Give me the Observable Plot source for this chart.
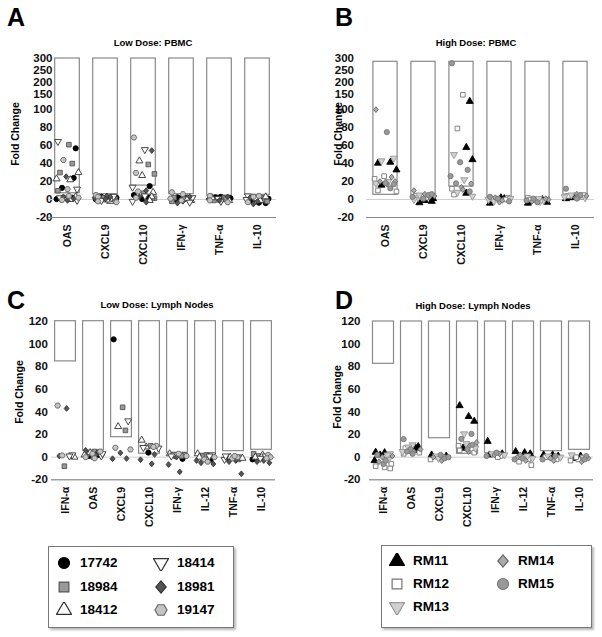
<!DOCTYPE html>
<html><head><meta charset="utf-8">
<script src="https://cdn.jsdelivr.net/npm/d3@7"></script>
<script src="https://cdn.jsdelivr.net/npm/@observablehq/plot@0.6"></script>
<style>
body{margin:0;background:#fff;font-family:"Liberation Sans",Arial,sans-serif;}
#wrap{position:relative;width:602px;height:637px;overflow:hidden;background:#fff;}
.abs{position:absolute;}
.letter{font-weight:bold;font-size:25px;line-height:1;}
.title{font-weight:bold;font-size:9.5px;white-space:nowrap;transform:translate(-50%,-50%);line-height:1;}
.ylab{font-weight:bold;font-size:10.5px;white-space:nowrap;transform:translate(-50%,-50%) rotate(-90deg);line-height:1;}
.legend{border:1px solid #777;box-shadow:2px 2px 2px #bbb;background:#fff;box-sizing:border-box;}
.lt{font-weight:bold;font-size:13.5px;line-height:1;transform:translateY(-50%);white-space:nowrap;}
g[aria-label="fx-axis tick label"]{font-size:10.5px;}
</style>
</head><body><div id="wrap"></div>
<script>
// ---------- categories, subjects, ticks ----------
const pbmcCats = ["OAS", "CXCL9", "CXCL10", "IFN-γ", "TNF-α", "IL-10"];
const lnCats = ["IFN-α", "OAS", "CXCL9", "CXCL10", "IFN-γ", "IL-12", "TNF-α", "IL-10"];
const lowSubjects = ["17742", "18984", "18412", "18414", "18981", "19147"];
const highSubjects = ["RM11", "RM12", "RM13", "RM14", "RM15"];
const pbmcTicks = [-20, 0, 20, 40, 60, 80, 100, 150, 200, 250, 300];
const lnTicks = [-20, 0, 20, 40, 60, 80, 100, 120];

// ---------- threshold boxes (bottom / top value per category) ----------
const lowPbmcBoxLo = [7, 6, 15.5, 6, 4.4, 5.2];
const lowPbmcBoxHi = [300, 300, 300, 300, 300, 300];
const highPbmcBoxLo = [5.2, 5, 14.4, 2.6, 1.5, 5.5];
const highPbmcBoxHi = [286, 286, 286, 286, 286, 286];
const lowLnBoxLo = [84.5, 5.9, 17.6, 3, 3.9, 3, 5.3, 6.5];
const lowLnBoxHi = [120, 120, 120, 120, 120, 120, 120, 120];
const highLnBoxLo = [82.6, 5, 16.8, 3, 3.5, 3, 5.3, 6.5];
const highLnBoxHi = [120, 120, 120, 120, 120, 120, 120, 120];

// ---------- A: Low Dose PBMC (per subject, per category: fold changes) ----------
const lowPbmc_17742 = [[57, 24, 13, 2, 0.5], [3, 1.5, 0, 2], [15, 5, 2.5, 0.5], [2.5, 1, 0, 2], [3, 1.5, 0, 2.5], [1, -1.5, -3.5, -4]];
const lowPbmc_18984 = [[61, 40, 30, 9.7, 1.5], [2, 0.5, -1], [39, 28.5, 7, 1.5], [2, 0.5, -2], [2, 0.5, -1], [2, 0, -2]];
const lowPbmc_18412 = [[30, 23, 22, 3, 0], [1, -2, -0.5], [43, 26.7, 8, 3, -1], [1, -1], [2, -1], [3, 1, -1]];
const lowPbmc_18414 = [[64.5, 11.5, 2, -1], [2, -1, 3.5], [55.5, 13.7, 4, -2], [2, -3], [1, -2], [4, 0]];
const lowPbmc_18981 = [[25.5, 3, 1, -1], [4, 2, 0.5, 3], [54.5, 10, 3, -3], [3, -2, -4], [3, -1, 0.5], [2, -2, -5]];
const lowPbmc_19147 = [[44, 11.5, 4, 2, -0.5], [5, 3, -2, -3], [69, 29.6, 9, 2], [8, 6, 1, -1], [4, -1, -3], [4, 3, -3]];

// ---------- B: High Dose PBMC ----------
const highPbmc_RM11 = [[41.5, 40.5, 33, 16], [1, -1, -2, -3.5], [118, 58, 44.4, 7], [2, 1, -4], [-3, -4, 0], [2, 1, 3]];
const highPbmc_RM12 = [[26, 23, 9, 10], [3, 4, 2], [146, 79, 5.5, 12], [2, 1, 0], [2, 0, -1], [4, 3, 5]];
const highPbmc_RM13 = [[46, 43, 18, 20], [2, 0, 5], [50, 22, 3.7, 8], [0, -2, 1], [-1, -2, 1], [3, 5, 2]];
const highPbmc_RM14 = [[100, 25, 20, 17, 20], [10, 6, 4, 3], [17.5, 13.6, 11], [-3, 2, -1], [-2, 0, 1], [4, 2, 6]];
const highPbmc_RM15 = [[75, 18.5, 12.5, 17], [5, 3, 1, 6], [280, 41.5, 33, 26, 18, 9], [1, 3, -2], [-3, 1, -1], [12, 3, 1, 5]];

// ---------- C: Low Dose Lymph Nodes ----------
const lowLn_17742 = [[], [1, 2], [104], [4], [-1.5], [-2.3], [-1], [-2]];
const lowLn_18984 = [[-8], [3, 5, 0], [44, 23.6], [10], [2, 1], [1, 2], [-2, 0], [1, 3]];
const lowLn_18412 = [[0], [2, 4], [27], [15, 9], [3], [3, 0], [0, -1], [0, 2]];
const lowLn_18414 = [[2, 1], [1, 3], [32], [8, 8.5], [2, 1], [2, 1], [-2, 1], [1, -1]];
const lowLn_18981 = [[43, 1], [6, 4, 2], [3.8, -1.4, -1.2], [2.4, -2.3, -5.9], [-6.5, -13, 0], [-5, -6, -3], [-3, -4, -14.7], [-4, -5, -3]];
const lowLn_19147 = [[45.5, 1.5], [5, 3, -1, 0], [6.8, 8.3], [10, 9], [3, 1], [0, -2, -4], [0, -1, 1], [2, 0, -1]];

// ---------- D: High Dose Lymph Nodes ----------
const highLn_RM11 = [[4.4, 4, 2, -3], [9.4, 8.6, 6], [2, 1], [45.6, 36, 31.8, 8], [14, 3, 2], [5, 4, 3], [2, 1, 2], [1, -1]];
const highLn_RM12 = [[-9, -8, -6, -10], [8, 4, 3], [0, -2], [10, 6, 4], [1, 0], [-7, -4, -2], [-2, 0], [-3, -2, 0]];
const highLn_RM13 = [[3, 2, -2], [11, 9, 5], [1, -1], [20.6, 12, 8], [2, 3], [-1, 1], [0, 1], [2, 0]];
const highLn_RM14 = [[-4, 0, 1], [7, 5, 4], [-3, 0], [13, 10, 5], [3, 2], [-3, 0, 2], [-1, -3], [-1, -4]];
const highLn_RM15 = [[-6, -3, 2], [16, 7, 5, 3], [-1, 2, 0], [20.6, 16.2, 11, 7], [4, 1], [-2, -1], [-2, 1], [1, -2]];

// ---------- symbols & styles ----------
const triDown = {draw(ctx, size) {
  const y = -Math.sqrt(size / (Math.sqrt(3) * 3));
  ctx.moveTo(0, -y * 2); ctx.lineTo(Math.sqrt(3) * y, y); ctx.lineTo(-Math.sqrt(3) * y, y); ctx.closePath();
}};
const hexFlat = {draw(ctx, size) {
  const r = Math.sqrt(size / (1.5 * Math.sqrt(3)));
  for (let i = 0; i < 6; i++) {
    const a = i * Math.PI / 3;
    const x = r * Math.cos(a), y = r * Math.sin(a);
    if (i === 0) ctx.moveTo(x, y); else ctx.lineTo(x, y);
  }
  ctx.closePath();
}};
const rhombus = {draw(ctx, size) {
  const h = Math.sqrt(size / 0.85) * 1.15; const w = h * 0.85;
  ctx.moveTo(0, -h / 2); ctx.lineTo(w / 2, 0); ctx.lineTo(0, h / 2); ctx.lineTo(-w / 2, 0); ctx.closePath();
}};
const lowSymbols = [d3.symbolCircle, d3.symbolSquare, d3.symbolTriangle, triDown, rhombus, hexFlat];
const lowFill = ["#000", "#999", "#fff", "#fff", "#555", "#c4c4c4"];
const lowStroke = ["#000", "#555", "#333", "#333", "#333", "#666"];
const highSymbols = [d3.symbolTriangle, d3.symbolSquare, triDown, rhombus, d3.symbolCircle];
const highFill = ["#000", "#fff", "#d0d0d0", "#aaa", "#999"];
const highStroke = ["#000", "#777", "#999", "#666", "#777"];

// horizontal scatter slots within a category (by rank of value), as a fraction of half the column
const scatterSlots = [-0.7, 0.1, 0.6, -0.3, 0.35, -0.55, 0.8, -0.1, 0.45, -0.8, 0.2, -0.4, 0.7, 0];

const brk = v => v <= 100 ? v : 104.5 + (v - 100) * 0.262;
const ident = v => v;

function panel(o) {
  const pts = [];
  o.subjects.forEach((s, si) => o.series[si].forEach((vals, ci) => vals.forEach(v => pts.push({s, si, cat: o.cats[ci], v}))));
  for (const [, g] of d3.group(pts, d => d.cat)) {
    g.slice().sort((a, b) => d3.descending(a.v, b.v)).forEach((p, k) => { p.slot = scatterSlots[k % scatterSlots.length] * o.spread; });
  }
  const boxes = o.cats.map((c, i) => ({cat: c, lo: o.boxLo[i], hi: o.boxHi[i]}));
  const labelOf = new Map(o.ticks.map(t => [o.fy(t), String(t)]));
  return Plot.plot({
    width: o.width, height: o.height,
    marginTop: o.mt, marginBottom: o.mb, marginLeft: o.ml, marginRight: o.mr,
    style: {fontFamily: "'Liberation Sans', Arial, sans-serif", fontWeight: "bold", fontSize: "11.5px", color: "#111", background: "transparent", overflow: "visible"},
    fx: {domain: o.cats, padding: 0, label: null, tickRotate: -90, tickSize: 0, tickPadding: 7},
    x: {domain: [-1, 1], axis: null},
    y: {domain: [o.fy(-20), o.fy(o.top)], ticks: o.ticks.map(o.fy), tickFormat: t => labelOf.get(t) ?? "", tickSize: 0, tickPadding: o.tickPad, label: null},
    symbol: {domain: o.subjects, range: o.symbols},
    color: {type: "identity"},
    marks: [
      Plot.ruleY([o.fy(0)], {stroke: "#d0d0d0", strokeWidth: 1}),
      Plot.ruleY([o.fy(-20)], {stroke: "#888", strokeWidth: 1.2}),
      Plot.rectY(boxes, {fx: "cat", y1: d => o.fy(d.lo), y2: d => o.fy(d.hi), fill: "white", stroke: "#8a8a8a", strokeWidth: 1.2, insetLeft: o.inset, insetRight: o.inset}),
      Plot.dot(pts, {
        fx: "cat", x: "slot", y: d => o.fy(d.v), r: o.r, symbol: "s",
        fill: d => o.fills[d.si], stroke: d => o.strokes[d.si], strokeWidth: 0.9
      })
    ]
  });
}

const wrap = document.getElementById("wrap");
function place(node, left, top) {
  node.style.position = "absolute"; node.style.left = left + "px"; node.style.top = top + "px";
  wrap.appendChild(node);
}
function addText(cls, text, left, top) {
  const d = document.createElement("div");
  d.className = "abs " + cls; d.textContent = text;
  d.style.left = left + "px"; d.style.top = top + "px";
  wrap.appendChild(d);
}

place(panel({cats: pbmcCats, subjects: lowSubjects,
  series: [lowPbmc_17742, lowPbmc_18984, lowPbmc_18412, lowPbmc_18414, lowPbmc_18981, lowPbmc_19147],
  boxLo: lowPbmcBoxLo, boxHi: lowPbmcBoxHi, ticks: pbmcTicks, fy: brk, top: 300,
  width: 300, height: 227, mt: 8, mb: 60, ml: 45, mr: 22, tickPad: -4, inset: 6.7, r: 2.6, spread: 0.72,
  symbols: lowSymbols, fills: lowFill, strokes: lowStroke}), 0, 50);

place(panel({cats: pbmcCats, subjects: highSubjects,
  series: [highPbmc_RM11, highPbmc_RM12, highPbmc_RM13, highPbmc_RM14, highPbmc_RM15],
  boxLo: highPbmcBoxLo, boxHi: highPbmcBoxHi, ticks: pbmcTicks, fy: brk, top: 300,
  width: 302, height: 227, mt: 8, mb: 60, ml: 65.5, mr: 7, tickPad: 12.5, inset: 6.9, r: 2.6, spread: 0.72,
  symbols: highSymbols, fills: highFill, strokes: highStroke}), 300, 50);

place(panel({cats: lnCats, subjects: lowSubjects,
  series: [lowLn_17742, lowLn_18984, lowLn_18412, lowLn_18414, lowLn_18981, lowLn_19147],
  boxLo: lowLnBoxLo, boxHi: lowLnBoxHi, ticks: lnTicks, fy: ident, top: 120,
  width: 300, height: 227.3, mt: 8.7, mb: 60, ml: 48.6, mr: 21.6, tickPad: 3.6, inset: 3.6, r: 2.6, spread: 0.8,
  symbols: lowSymbols, fills: lowFill, strokes: lowStroke}), 0, 312);

place(panel({cats: lnCats, subjects: highSubjects,
  series: [highLn_RM11, highLn_RM12, highLn_RM13, highLn_RM14, highLn_RM15],
  boxLo: highLnBoxLo, boxHi: highLnBoxHi, ticks: lnTicks, fy: ident, top: 120,
  width: 302, height: 227.3, mt: 9, mb: 60, ml: 65, mr: 6, tickPad: 9, inset: 3.5, r: 2.6, spread: 0.8,
  symbols: highSymbols, fills: highFill, strokes: highStroke}), 300, 312);

// panel letters, titles, axis labels
addText("letter", "A", 7, 5);
addText("letter", "B", 335, 5);
addText("letter", "C", 7, 288);
addText("letter", "D", 335, 288);
addText("title", "Low Dose: PBMC", 153, 43);
addText("title", "High Dose: PBMC", 476, 43);
addText("title", "Low Dose: Lymph Nodes", 157, 305);
addText("title", "High Dose: Lymph Nodes", 473, 306);
addText("ylab", "Fold Change", 15, 134);
addText("ylab", "Fold Change", 338, 134);
addText("ylab", "Fold Change", 19, 392);
addText("ylab", "Fold Change", 337, 397);

// legends
function legendBox(left, top, w, h, items) {
  const box = document.createElement("div");
  box.className = "abs legend";
  box.style.left = left + "px"; box.style.top = top + "px"; box.style.width = w + "px"; box.style.height = h + "px";
  wrap.appendChild(box);
  items.forEach(it => {
    const svg = d3.create("svg").attr("width", 16).attr("height", 16)
      .style("position", "absolute").style("left", (it.sx - 8) + "px").style("top", (it.y - 8) + "px");
    svg.append("path").attr("transform", "translate(8,8)")
      .attr("d", d3.symbol(it.symbol, 95)()).attr("fill", it.fill).attr("stroke", it.stroke).attr("stroke-width", 1.2);
    wrap.appendChild(svg.node());
    addText("lt", it.label, it.tx, it.y);
  });
}
const lowLegendOrder = [0, 3, 1, 4, 2, 5];
legendBox(48, 546, 186, 82, lowLegendOrder.map((si, k) => {
  const col = k % 2, row = Math.floor(k / 2);
  return {label: lowSubjects[si], symbol: lowSymbols[si], fill: lowFill[si], stroke: lowStroke[si],
    sx: col ? 161 : 64, tx: col ? 177 : 80, y: 563 + row * 23.5};
}));
const highLegendOrder = [0, 3, 1, 4, 2];
legendBox(381, 545, 211, 83, highLegendOrder.map((si, k) => {
  const col = k % 2, row = Math.floor(k / 2);
  return {label: highSubjects[si], symbol: highSymbols[si], fill: highFill[si], stroke: highStroke[si],
    sx: col ? 503 : 397, tx: col ? 518 : 413, y: 561 + row * 23};
}));
</script></body></html>
